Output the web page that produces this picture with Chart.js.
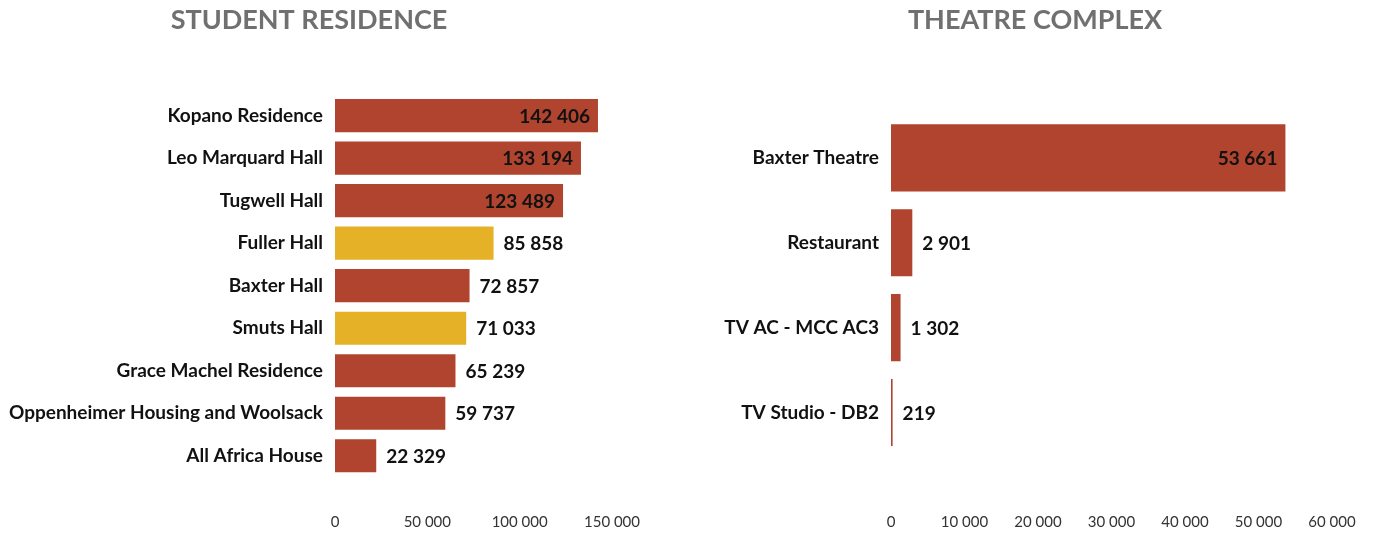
<!DOCTYPE html>
<html>
<head>
<meta charset="utf-8">
<script src="https://cdn.jsdelivr.net/npm/chart.js@4.4.1/dist/chart.umd.min.js"></script>
<style>
  html, body { margin: 0; padding: 0; background: #fff; overflow: hidden; }
  body { width: 1373px; height: 534px; position: relative; }
  .box { position: absolute; top: 0; height: 534px; }
  #residenceBox { left: 6px; width: 664px; }
  #theatreBox { left: 697px; width: 676px; }
</style>
</head>
<body>
<div class="box" id="residenceBox"><canvas id="residence"></canvas></div>
<div class="box" id="theatreBox"><canvas id="theatre"></canvas></div>
<script>
// Student residence data
const residenceNames = ['Kopano Residence', 'Leo Marquard Hall', 'Tugwell Hall', 'Fuller Hall', 'Baxter Hall',
  'Smuts Hall', 'Grace Machel Residence', 'Oppenheimer Housing and Woolsack', 'All Africa House'];
const residenceValues = [142406, 133194, 123489, 85858, 72857, 71033, 65239, 59737, 22329];
const residenceHighlight = ['Fuller Hall', 'Smuts Hall'];
const residenceTicks = [0, 50000, 100000, 150000];

// Theatre complex data
const theatreNames = ['Baxter Theatre', 'Restaurant', 'TV AC - MCC AC3', 'TV Studio - DB2'];
const theatreValues = [53661, 2901, 1302, 219];
const theatreTicks = [0, 10000, 20000, 30000, 40000, 50000, 60000];

const RED = '#b0442e';
const YELLOW = '#e5b126';

const fmt = (v) => String(v).replace(/\B(?=(\d{3})+(?!\d))/g, ' ');

// draws the value next to / inside each bar
const valueLabels = {
  id: 'valueLabels',
  afterDatasetsDraw(chart) {
    const ctx = chart.ctx;
    const max = chart.scales.x.max;
    const meta = chart.getDatasetMeta(0);
    ctx.save();
    ctx.font = 'bold 19px Lato';
    ctx.fillStyle = '#111';
    ctx.textBaseline = 'middle';
    meta.data.forEach((bar, i) => {
      const v = chart.data.datasets[0].data[i];
      if (v > 0.7 * max) {
        ctx.textAlign = 'right';
        ctx.fillText(fmt(v), bar.x - 8, bar.y + 1);
      } else {
        ctx.textAlign = 'left';
        ctx.fillText(fmt(v), bar.x + 10, bar.y + 1);
      }
    });
    ctx.restore();
  }
};

function makeChart(id, opts) {
  return new Chart(document.getElementById(id), {
    type: 'bar',
    data: {
      labels: opts.labels,
      datasets: [{
        data: opts.values,
        backgroundColor: opts.colors,
        barPercentage: opts.barPct,
        categoryPercentage: 1
      }]
    },
    options: {
      indexAxis: 'y',
      responsive: true,
      maintainAspectRatio: false,
      animation: false,
      layout: { padding: { left: opts.padLeft, right: opts.padRight, top: 0, bottom: 0 } },
      plugins: {
        legend: { display: false },
        tooltip: { enabled: false },
        title: {
          display: true,
          text: opts.title,
          color: '#707070',
          font: { family: 'Lato', size: 27, weight: 'bold' },
          padding: { top: 4, bottom: opts.titleGap }
        }
      },
      scales: {
        x: {
          min: 0,
          max: opts.ticks[opts.ticks.length - 1],
          afterBuildTicks: (s) => { s.ticks = opts.ticks.map(v => ({ value: v })); },
          afterFit: (s) => {
            s.height = opts.xHeight;
            s.paddingLeft = 0;
            s.paddingRight = 0;
          },
          grid: { display: false, drawTicks: false },
          border: { display: false },
          ticks: {
            padding: opts.xPad,
            color: '#333',
            font: { family: 'Lato', size: 15 },
            maxRotation: 0,
            callback: (v) => fmt(v)
          }
        },
        y: {
          afterFit: (s) => {
            s.width = opts.yWidth;
            // long labels may run into the layout padding, so don't clip them
            s._computeLabelArea = () => undefined;
          },
          grid: { display: false, drawTicks: false },
          border: { display: false },
          ticks: {
            padding: 12,
            color: '#111',
            font: { family: 'Lato', size: 19, weight: 'bold' }
          }
        }
      }
    },
    plugins: [valueLabels]
  });
}

makeChart('residence', {
  title: 'STUDENT RESIDENCE',
  labels: residenceNames,
  values: residenceValues,
  colors: residenceNames.map(n => residenceHighlight.includes(n) ? YELLOW : RED),
  ticks: residenceTicks,
  barPct: 0.78,
  padLeft: 0,
  padRight: 58,
  titleGap: 58,
  xHeight: 57,
  xPad: 36,
  yWidth: 329
});

makeChart('theatre', {
  title: 'THEATRE COMPLEX',
  labels: theatreNames,
  values: theatreValues,
  colors: theatreNames.map(() => RED),
  ticks: theatreTicks,
  barPct: 0.79,
  padLeft: 41,
  padRight: 41,
  titleGap: 79,
  xHeight: 79,
  xPad: 58,
  yWidth: 153
});
</script>
</body>
</html>
